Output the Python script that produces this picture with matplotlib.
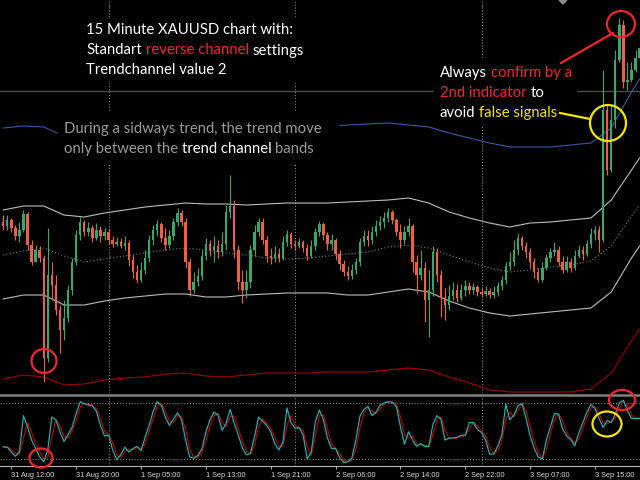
import numpy as np
import matplotlib.pyplot as plt
from matplotlib.lines import Line2D
from matplotlib.patches import Ellipse, Rectangle, Polygon

# === 15 min XAUUSD candles (open = previous close) ===
first_open = 1817.8
closes = [
    1817.4, 1818.0, 1817.2, 1816.4, 1817.0, 1818.6, 1815.5, 1813.8, 1815.0, 1814.2,
    1804.2, 1812.5, 1811.5, 1809.0, 1807.0, 1808.2, 1811.0, 1813.8, 1816.5, 1817.8,
    1816.8, 1817.2, 1816.2, 1817.0, 1816.4, 1816.8, 1816.0, 1815.6, 1815.8, 1815.4,
    1815.7, 1814.0, 1812.8, 1812.0, 1813.0, 1814.2, 1816.0, 1817.0, 1817.6, 1816.2,
    1815.5, 1816.4, 1817.8, 1818.7, 1817.8, 1813.8, 1811.0, 1811.8, 1812.4, 1814.4,
    1815.6, 1815.0, 1815.4, 1814.8, 1815.6, 1818.8, 1819.4, 1815.0, 1811.8, 1811.0,
    1811.8, 1815.0, 1816.8, 1817.8, 1816.0, 1814.4, 1814.2, 1814.6, 1814.2, 1815.8,
    1816.6, 1815.6, 1815.4, 1815.8, 1815.2, 1814.4, 1815.4, 1816.8, 1817.6, 1816.5,
    1815.6, 1816.0, 1814.6, 1813.6, 1812.8, 1812.4, 1813.0, 1813.8, 1815.8, 1816.4,
    1816.0, 1816.8, 1817.4, 1817.8, 1818.2, 1818.8, 1818.0, 1816.8, 1816.0, 1816.8,
    1817.4, 1813.8, 1812.5, 1813.2, 1810.0, 1811.0, 1814.8, 1812.5, 1810.2, 1809.5,
    1810.4, 1811.0, 1810.2, 1811.0, 1811.4, 1811.0, 1811.3, 1810.8, 1810.6, 1810.9,
    1810.5, 1810.8, 1811.4, 1812.0, 1813.4, 1813.8, 1815.0, 1816.2, 1815.4, 1814.8,
    1813.8, 1812.8, 1812.0, 1813.2, 1814.2, 1814.8, 1815.0, 1813.8, 1813.0, 1813.8,
    1813.2, 1814.4, 1815.0, 1814.6, 1815.6, 1816.6, 1817.0, 1816.0, 1829.0, 1823.0,
    1828.0, 1834.0, 1837.5, 1831.8, 1832.0, 1833.0, 1834.2, 1835.2,
]
highs = [
    1818.5, 1818.5, 1818.2, 1817.5, 1817.8, 1819.0, 1818.8, 1816.0, 1815.5, 1815.4,
    1814.5, 1817.2, 1813.8, 1812.5, 1809.5, 1810.0, 1811.5, 1814.2, 1817.0, 1818.3,
    1818.0, 1817.8, 1817.5, 1817.7, 1817.4, 1817.2, 1817.1, 1816.4, 1816.3, 1816.2,
    1816.4, 1816.0, 1814.5, 1813.5, 1813.8, 1815.0, 1816.5, 1817.5, 1818.0, 1817.8,
    1817.2, 1817.0, 1818.2, 1819.2, 1819.0, 1818.2, 1814.2, 1812.8, 1813.2, 1815.0,
    1816.2, 1816.0, 1816.4, 1816.0, 1816.8, 1819.5, 1822.5, 1820.0, 1815.5, 1813.0,
    1813.0, 1815.5, 1817.5, 1818.2, 1818.2, 1816.4, 1815.2, 1815.4, 1815.2, 1816.4,
    1817.0, 1816.8, 1816.0, 1816.2, 1816.0, 1815.6, 1816.0, 1817.2, 1817.9, 1817.8,
    1816.8, 1816.6, 1816.2, 1815.0, 1814.0, 1813.4, 1813.6, 1814.2, 1816.2, 1817.0,
    1817.0, 1817.4, 1818.0, 1818.4, 1818.8, 1819.2, 1819.0, 1818.2, 1817.6, 1817.4,
    1818.2, 1817.6, 1814.5, 1815.0, 1813.8, 1813.0, 1815.4, 1815.2, 1813.0, 1811.2,
    1811.5, 1811.8, 1811.6, 1811.6, 1812.0, 1811.8, 1811.7, 1811.5, 1811.2, 1811.4,
    1811.2, 1811.4, 1811.8, 1812.4, 1813.8, 1814.8, 1816.0, 1816.7, 1816.4, 1815.8,
    1815.2, 1814.2, 1813.2, 1813.8, 1814.6, 1815.2, 1815.8, 1815.4, 1814.4, 1814.4,
    1814.2, 1815.0, 1815.5, 1815.4, 1816.0, 1817.2, 1817.4, 1817.4, 1833.0, 1829.5,
    1829.5, 1835.0, 1838.2, 1838.0, 1833.8, 1833.8, 1835.0, 1836.0,
]
lows = [
    1817.0, 1817.0, 1816.8, 1816.0, 1815.8, 1816.8, 1815.0, 1813.5, 1813.8, 1813.8,
    1801.8, 1803.8, 1810.0, 1808.5, 1804.7, 1806.0, 1807.8, 1810.5, 1813.5, 1816.0,
    1816.4, 1816.4, 1815.8, 1816.0, 1815.8, 1816.0, 1815.6, 1815.3, 1815.4, 1815.2,
    1815.0, 1813.4, 1812.2, 1811.7, 1811.8, 1812.6, 1813.8, 1815.5, 1816.4, 1815.8,
    1815.0, 1815.2, 1816.0, 1817.4, 1817.4, 1813.2, 1810.4, 1810.7, 1811.4, 1812.0,
    1814.0, 1814.4, 1813.8, 1814.2, 1814.4, 1815.0, 1818.2, 1814.2, 1811.0, 1809.7,
    1810.2, 1811.2, 1814.4, 1816.4, 1815.6, 1813.8, 1813.6, 1813.8, 1813.8, 1814.0,
    1815.4, 1815.2, 1815.0, 1815.2, 1814.8, 1814.0, 1814.2, 1815.0, 1816.4, 1816.0,
    1815.0, 1815.0, 1814.0, 1813.0, 1812.4, 1812.0, 1812.1, 1812.6, 1813.4, 1815.4,
    1815.4, 1815.6, 1816.4, 1817.0, 1817.2, 1817.8, 1817.6, 1816.4, 1815.2, 1815.6,
    1816.4, 1812.8, 1810.7, 1812.0, 1807.8, 1806.3, 1810.4, 1811.8, 1808.3, 1808.0,
    1809.0, 1810.0, 1809.8, 1810.0, 1810.4, 1810.6, 1810.6, 1810.4, 1810.3, 1810.4,
    1810.2, 1810.2, 1810.4, 1811.0, 1811.6, 1813.0, 1813.4, 1814.5, 1815.0, 1814.2,
    1813.2, 1812.2, 1811.8, 1811.8, 1813.0, 1813.8, 1814.4, 1813.4, 1812.7, 1812.8,
    1812.8, 1813.0, 1814.2, 1814.0, 1814.4, 1815.2, 1816.0, 1814.8, 1815.8, 1822.5,
    1822.8, 1827.2, 1833.8, 1831.2, 1831.0, 1831.8, 1832.8, 1834.0,
]

# === Trend channel lines (sampled every 5 bars) ===
band_idx = list(range(0, 160, 5)) + [157]
band_upper = [1819.0, 1819.4, 1819.4, 1818.5, 1818.3, 1818.7, 1819.0, 1819.3, 1819.5, 1819.7,
              1819.6, 1819.6, 1819.5, 1819.6, 1819.7, 1819.7, 1819.7, 1819.8, 1819.9, 1820.0,
              1820.2, 1819.7, 1818.8, 1818.2, 1817.7, 1817.3, 1817.7, 1817.8, 1818.0, 1818.2,
              1820.0, 1823.0, 1824.2]
band_mid = [1814.5, 1814.9, 1815.2, 1814.4, 1813.8, 1814.1, 1814.4, 1814.7, 1815.0, 1815.2,
            1815.0, 1814.7, 1814.5, 1814.2, 1814.1, 1814.2, 1814.4, 1814.6, 1814.8, 1815.3,
            1815.5, 1815.2, 1814.5, 1813.8, 1813.2, 1812.8, 1813.0, 1813.3, 1813.5, 1813.9,
            1815.4, 1818.4, 1819.5]
band_lower = [1810.1, 1810.5, 1810.5, 1809.5, 1809.5, 1809.9, 1810.2, 1810.4, 1810.6, 1810.6,
              1810.3, 1810.3, 1810.5, 1810.6, 1810.7, 1810.7, 1810.7, 1810.5, 1810.5, 1810.8,
              1811.1, 1810.8, 1809.9, 1809.2, 1808.7, 1808.4, 1808.6, 1808.8, 1809.0, 1809.2,
              1810.8, 1814.2, 1815.4]
outer_upper = [1827.2, 1827.4, 1827.3, 1826.4, 1826.3, 1826.4, 1826.6, 1826.8, 1826.9, 1827.1,
               1827.1, 1827.2, 1827.2, 1827.2, 1827.3, 1827.3, 1827.4, 1827.5, 1827.6, 1827.7,
               1827.5, 1827.3, 1826.7, 1826.2, 1825.7, 1825.3, 1825.3, 1825.3, 1825.5, 1825.7,
               1827.2, 1830.8, 1832.1]
outer_lower = [1802.1, 1802.5, 1802.3, 1801.5, 1801.6, 1802.0, 1802.2, 1802.3, 1802.6, 1802.7,
               1802.4, 1802.3, 1802.5, 1802.7, 1802.7, 1802.7, 1802.8, 1802.8, 1802.8, 1803.0,
               1803.2, 1803.0, 1802.3, 1801.7, 1801.0, 1800.8, 1800.8, 1800.8, 1800.8, 1801.1,
               1802.7, 1805.9, 1807.1]
level_price = 1830.9

# === Stochastic ===
stoch_main = [
    27, 27, 20, 14, 20, 72, 56, 37, 25, 13,
    6, 23, 70, 66, 49, 35, 45, 55, 75, 92,
    89, 87, 86, 78, 58, 43, 44, 23, 9, 16,
    27, 20, 25, 28, 22, 41, 58, 78, 92, 87,
    70, 58, 67, 76, 66, 37, 13, 11, 15, 24,
    48, 66, 77, 73, 51, 61, 81, 61, 44, 26,
    16, 18, 42, 70, 64, 58, 49, 32, 23, 34,
    83, 62, 54, 55, 44, 10, 20, 63, 80, 66,
    40, 25, 25, 12, 5, 6, 11, 37, 71, 81,
    85, 72, 77, 87, 90, 92, 91, 85, 56, 31,
    49, 37, 28, 32, 28, 28, 59, 72, 67, 37,
    40, 40, 41, 44, 44, 62, 62, 52, 48, 37,
    17, 17, 28, 44, 88, 66, 73, 86, 89, 68,
    43, 25, 13, 10, 37, 56, 75, 74, 53, 43,
    38, 29, 47, 62, 77, 88, 82, 68, 55, 65,
    62, 74, 90, 94, 79, 68, 68, 68,
]
stoch_signal = [
    28, 27, 24, 18, 17, 40, 62, 48, 32, 20,
    10, 12, 42, 66, 58, 42, 40, 50, 64, 84,
    90, 88, 87, 82, 68, 50, 44, 34, 16, 12,
    21, 24, 23, 27, 25, 32, 50, 68, 85, 90,
    78, 64, 62, 72, 71, 52, 25, 12, 13, 19,
    36, 57, 72, 75, 62, 56, 71, 71, 53, 35,
    21, 17, 30, 56, 67, 61, 54, 41, 28, 28,
    58, 72, 58, 55, 50, 27, 15, 42, 72, 73,
    53, 32, 25, 18, 8, 6, 8, 24, 54, 76,
    83, 78, 75, 82, 89, 91, 91, 88, 70, 44,
    40, 43, 32, 30, 30, 28, 44, 66, 70, 52,
    39, 40, 40, 42, 44, 53, 62, 57, 50, 43,
    27, 17, 22, 36, 66, 77, 70, 80, 88, 79,
    56, 34, 19, 11, 24, 46, 66, 75, 64, 48,
    40, 33, 38, 54, 70, 83, 85, 75, 61, 60,
    63, 68, 82, 92, 86, 73, 68, 68,
]
stoch_levels = [10, 90]

tick_idx = [2, 18, 34, 50, 66, 82, 98, 114, 130, 146]
tick_labels = ["31 Aug 12:00", "31 Aug 20:00", "1 Sep 05:00", "1 Sep 13:00", "1 Sep 21:00",
               "2 Sep 06:00", "2 Sep 14:00", "2 Sep 22:00", "3 Sep 07:00", "3 Sep 15:00"]
grid_idx = [26, 72, 118]

# === Farben ===
BULL = '#30ab6c'
BEAR = '#f0603c'
GRID = '#9a9a9a'
RED = '#f0262c'
YEL = '#f2e600'
GRAY_TXT = '#9a9a9a'

o = np.array([first_open] + closes[:-1])
c = np.array(closes)
h = np.maximum(np.array(highs), np.maximum(o, c))
l = np.minimum(np.array(lows), np.minimum(o, c))
x = np.arange(len(c))

fig = plt.figure(figsize=(6.4, 4.8), dpi=100, facecolor='black')
ax = fig.add_axes([0, 87 / 480, 1, 393 / 480])
st = fig.add_axes([0, 14 / 480, 1, 70 / 480])
for a in (ax, st):
    a.set_facecolor('black')
    a.set_xlim(-0.79, 157.1)
    for s in a.spines.values():
        s.set_visible(False)
    a.set_yticks([])
    for g in grid_idx:
        a.axvline(g, color=GRID, lw=0.7, ls=(0, (1, 2)), zorder=1)
ax.set_xticks([])
ax.set_ylim(1800.7, 1840)

# --- price pane ---
ax.axhline(level_price, color='#4c4c4c', lw=1.0, zorder=1)
ax.plot(band_idx, outer_upper, color='#3a60aa', lw=0.75, zorder=2)
ax.plot(band_idx, outer_lower, color='#a00000', lw=0.8, zorder=2)
ax.plot(band_idx, band_upper, color='#bcbcbc', lw=0.8, zorder=2)
ax.plot(band_idx, band_lower, color='#bcbcbc', lw=0.8, zorder=2)
ax.plot(band_idx, band_mid, color='#7c7c7c', lw=0.8, ls=(0, (1, 2)), zorder=2)

cols = np.where(c >= o, BULL, BEAR)
ax.vlines(x, l, h, colors=cols, lw=0.8, zorder=3)
ax.bar(x, np.maximum(np.abs(c - o), 0.1), bottom=np.minimum(o, c), width=0.6,
       color=cols, lw=0, zorder=4)

# --- stochastic pane ---
st.set_ylim(0, 100)
for lv in stoch_levels:
    st.axhline(lv, color=GRID, lw=0.7, ls=(0, (1, 2)), zorder=1)
st.plot(x, stoch_signal, color='#c00000', lw=0.85, zorder=3)
st.plot(x, stoch_main, color='#1db5b5', lw=0.85, zorder=4)
st.spines['bottom'].set_visible(True)
st.spines['bottom'].set_color('#b4b4b4')
st.spines['bottom'].set_linewidth(0.8)
st.set_xticks(tick_idx, tick_labels)
st.tick_params(axis='x', colors='#b4b4b4', labelcolor='#d8d8d8', length=2.5, width=0.7,
               pad=1.5, labelsize=5.3, direction='out')
for lab in st.get_xticklabels():
    lab.set_ha('left')
    lab.set_fontfamily('Liberation Sans')

fig.add_artist(Line2D([0, 1], [1 - 394.5 / 480] * 2, transform=fig.transFigure,
                      color='#808080', lw=1.8))

# === Overlay (Pixelkoordinaten) fuer Texte und Markierungen ===
ov = fig.add_axes([0, 0, 1, 1], zorder=10)
ov.set_xlim(0, 640)
ov.set_ylim(480, 0)
ov.axis('off')
ov.patch.set_alpha(0)

for (x0, y0, w, hh) in [(80, 18, 234, 64), (434, 58, 142, 66), (58, 112, 280, 50)]:
    ov.add_patch(Rectangle((x0, y0), w, hh, color='black', zorder=1))

ov.add_patch(Polygon([(559, 0), (567, 0), (563, 4)], closed=True, color='#8c8c8c', zorder=2))

renderer = fig.canvas.get_renderer()
FS = 10.7
probe1 = ov.text(0, 0, 'x x', fontsize=FS, family='Lato')
probe2 = ov.text(0, 0, 'xx', fontsize=FS, family='Lato')
space_w = probe1.get_window_extent(renderer).width - probe2.get_window_extent(renderer).width
probe1.remove()
probe2.remove()


def text_line(x0, y0, parts):
    xx = x0
    for txt, col in parts:
        t = ov.text(xx, y0, txt, color=col, fontsize=FS, family='Lato',
                    ha='left', va='baseline', zorder=5)
        xx += t.get_window_extent(renderer).width + space_w


W = 'white'
text_line(86, 34.5, [("15 Minute XAUUSD chart with:", W)])
text_line(86, 54.5, [("Standart", W), ("reverse channel", RED), ("settings", W)])
text_line(86, 74.5, [("Trendchannel value 2", W)])

text_line(440, 77, [("Always", W), ("confirm by a", RED)])
text_line(440, 97, [("2nd indicator", RED), ("to", W)])
text_line(440, 117, [("avoid", W), ("false signals", YEL)])

text_line(64, 133, [("During a sidways trend, the trend move", GRAY_TXT)])
text_line(64, 153, [("only between the", GRAY_TXT), ("trend channel", W), ("bands", GRAY_TXT)])

# Kreise und Linien
for (cx, cy, w, hh, col) in [(44, 361, 25, 24, RED), (621, 24, 28, 26, RED),
                             (608, 123, 36, 36, YEL), (41, 458, 23, 19, RED),
                             (607, 424, 29, 25, YEL), (622, 400, 26, 20, RED)]:
    ov.add_patch(Ellipse((cx, cy), w, hh, fill=False, ec=col, lw=1.6, zorder=6))
ov.plot([613, 561], [33, 63], color=RED, lw=1.6, zorder=6)
ov.plot([560, 590], [113, 119], color=YEL, lw=1.6, zorder=6)

fig.savefig('out.png', dpi=100, facecolor='black')
